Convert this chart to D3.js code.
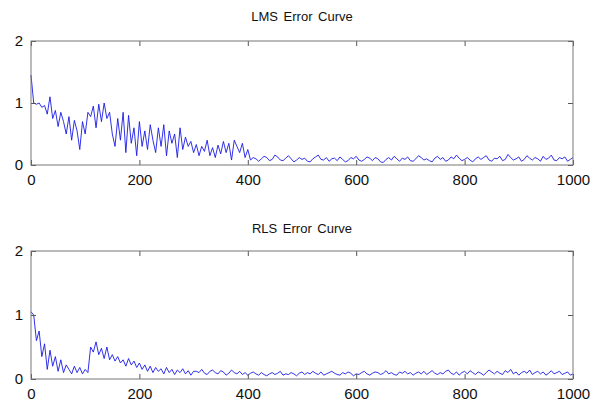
<!DOCTYPE html>
<html>
<head>
<meta charset="utf-8">
<script src="https://cdn.jsdelivr.net/npm/d3@7"></script>
<style>
  body { margin: 0; background: #fff; }
  .title { font-family: "Liberation Sans", Arial, sans-serif; font-size: 13px; word-spacing: 2px; fill: #111; }
  .tick text { font-family: "Liberation Sans", Arial, sans-serif; font-size: 15px; fill: #111; }
  .frame { fill: none; stroke: #777; stroke-width: 1; }
  .errLine { fill: none; stroke: #1a1ae6; stroke-width: 0.9; }
</style>
</head>
<body>
<script>
//sample index of each value (every 5th iteration)
var iterations = d3.range(0, 1001, 5);

//LMS error
var lmsError = [
  1.45,1.0,0.98,1.0,0.93,0.96,0.82,1.1,0.75,0.88,0.62,0.85,0.7,0.5,0.78,0.4,0.72,0.55,0.25,0.7,
  0.5,0.85,0.78,0.95,0.6,0.98,0.7,1.0,0.75,0.85,0.5,0.3,0.75,0.4,0.85,0.2,0.8,0.35,0.6,0.15,
  0.7,0.3,0.55,0.25,0.65,0.4,0.2,0.6,0.3,0.65,0.15,0.55,0.35,0.5,0.12,0.6,0.25,0.45,0.3,0.38,
  0.2,0.33,0.15,0.3,0.22,0.4,0.15,0.28,0.12,0.32,0.18,0.38,0.2,0.35,0.08,0.4,0.3,0.2,0.35,0.12,
  0.25,
  0.08,0.12,0.1,0.06,0.1,0.14,0.12,0.07,0.09,0.16,
  0.13,0.08,0.07,0.11,0.15,0.1,0.05,0.08,0.12,0.09,
  0.11,0.06,0.05,0.1,0.13,0.16,0.09,0.08,0.12,0.06,
  0.1,0.11,0.07,0.13,0.09,0.05,0.07,0.12,0.1,0.14,
  0.08,0.06,0.09,0.13,0.11,0.07,0.12,0.1,0.05,0.04,
  0.09,0.12,0.08,0.14,0.1,0.06,0.11,0.09,0.13,0.07,
  0.06,0.1,0.15,0.12,0.08,0.1,0.07,0.05,0.11,0.14,
  0.09,0.12,0.06,0.08,0.13,0.1,0.16,0.11,0.07,0.09,
  0.12,0.08,0.05,0.1,0.13,0.09,0.12,0.15,0.08,0.06,
  0.11,0.1,0.14,0.07,0.09,0.17,0.12,0.08,0.1,0.13,
  0.06,0.09,0.15,0.11,0.08,0.12,0.1,0.06,0.14,0.09,
  0.11,0.16,0.08,0.07,0.12,0.1,0.13,0.06,0.09,0.12
];

//RLS error
var rlsError = [
  1.05,1.0,0.6,0.75,0.35,0.55,0.15,0.45,0.2,0.35,0.12,0.3,0.1,0.22,0.15,0.08,0.2,0.1,0.18,0.08,
  0.15,0.1,0.5,0.42,0.58,0.38,0.48,0.32,0.5,0.3,0.38,0.28,0.35,0.25,0.3,0.2,0.32,0.22,0.28,0.18,
  0.25,0.15,0.22,0.12,0.2,0.1,0.18,0.12,0.16,0.08,0.18,0.1,0.15,0.07,0.14,0.1,0.16,0.08,0.13,0.06,
  0.12,
  0.12,0.1,0.15,0.09,0.07,0.12,0.14,0.1,0.08,0.13,
  0.11,0.06,0.09,0.14,0.1,0.08,0.12,0.07,0.1,0.06,
  0.09,0.11,0.08,0.06,0.1,0.07,0.05,0.08,0.1,0.07,
  0.09,0.12,0.06,0.08,0.07,0.1,0.08,0.05,0.09,0.11,
  0.07,0.1,0.08,0.12,0.09,0.07,0.11,0.06,0.08,0.1,
  0.12,0.09,0.07,0.06,0.1,0.08,0.11,0.09,0.05,0.08,
  0.07,0.1,0.12,0.08,0.06,0.09,0.11,0.1,0.07,0.09,
  0.13,0.08,0.1,0.07,0.06,0.11,0.09,0.12,0.08,0.1,
  0.06,0.09,0.11,0.08,0.12,0.07,0.1,0.13,0.09,0.07,
  0.1,0.08,0.12,0.14,0.09,0.07,0.11,0.06,0.1,0.12,
  0.08,0.13,0.1,0.07,0.11,0.09,0.06,0.1,0.14,0.11,
  0.08,0.12,0.09,0.07,0.13,0.1,0.15,0.08,0.11,0.06,
  0.1,0.12,0.09,0.14,0.07,0.1,0.12,0.08,0.11,0.06,
  0.09,0.13,0.08,0.1,0.12,0.07,0.09,0.11,0.06,0.08
];

var xTicks = [0, 200, 400, 600, 800, 1000];
var yTicks = [0, 1, 2];

//panel layout
var panels = [
  {title: "LMS Error Curve", values: lmsError, top: 41, bottom: 165, titleY: 21},
  {title: "RLS Error Curve", values: rlsError, top: 251, bottom: 379, titleY: 233}
];
var left = 31, right = 573;

var svg = d3.select("body").append("svg")
  .attr("width", 602)
  .attr("height", 402);

panels.forEach(function(p){
  var x = d3.scaleLinear().domain([0, 1000]).range([left, right]);
  var y = d3.scaleLinear().domain([0, 2]).range([p.bottom, p.top]);
  var g = svg.append("g");

  //title
  g.append("text")
    .attr("class", "title")
    .attr("x", (left + right) / 2)
    .attr("y", p.titleY)
    .attr("text-anchor", "middle")
    .text(p.title);

  //error curve
  var line = d3.line()
    .x(function(d, i){ return x(iterations[i]); })
    .y(function(d){ return y(d); });
  g.append("path")
    .datum(p.values)
    .attr("class", "errLine")
    .attr("d", line);

  //axes with inward ticks on all sides
  g.append("g")
    .attr("transform", "translate(0," + p.bottom + ")")
    .call(d3.axisBottom(x).tickValues(xTicks).tickSize(-5).tickPadding(9).tickFormat(d3.format("d")));
  g.append("g")
    .attr("transform", "translate(" + left + ",0)")
    .call(d3.axisLeft(y).tickValues(yTicks).tickSize(-5).tickPadding(8).tickFormat(d3.format("d")));
  g.append("g")
    .attr("transform", "translate(0," + p.top + ")")
    .call(d3.axisTop(x).tickValues(xTicks).tickSize(-5).tickFormat(""));
  g.append("g")
    .attr("transform", "translate(" + right + ",0)")
    .call(d3.axisRight(y).tickValues(yTicks).tickSize(-5).tickFormat(""));

  g.selectAll(".domain").remove();
  g.selectAll(".tick line").attr("stroke", "#555");

  //box
  g.append("rect")
    .attr("class", "frame")
    .attr("x", left)
    .attr("y", p.top)
    .attr("width", right - left)
    .attr("height", p.bottom - p.top);
});
</script>
</body>
</html>
